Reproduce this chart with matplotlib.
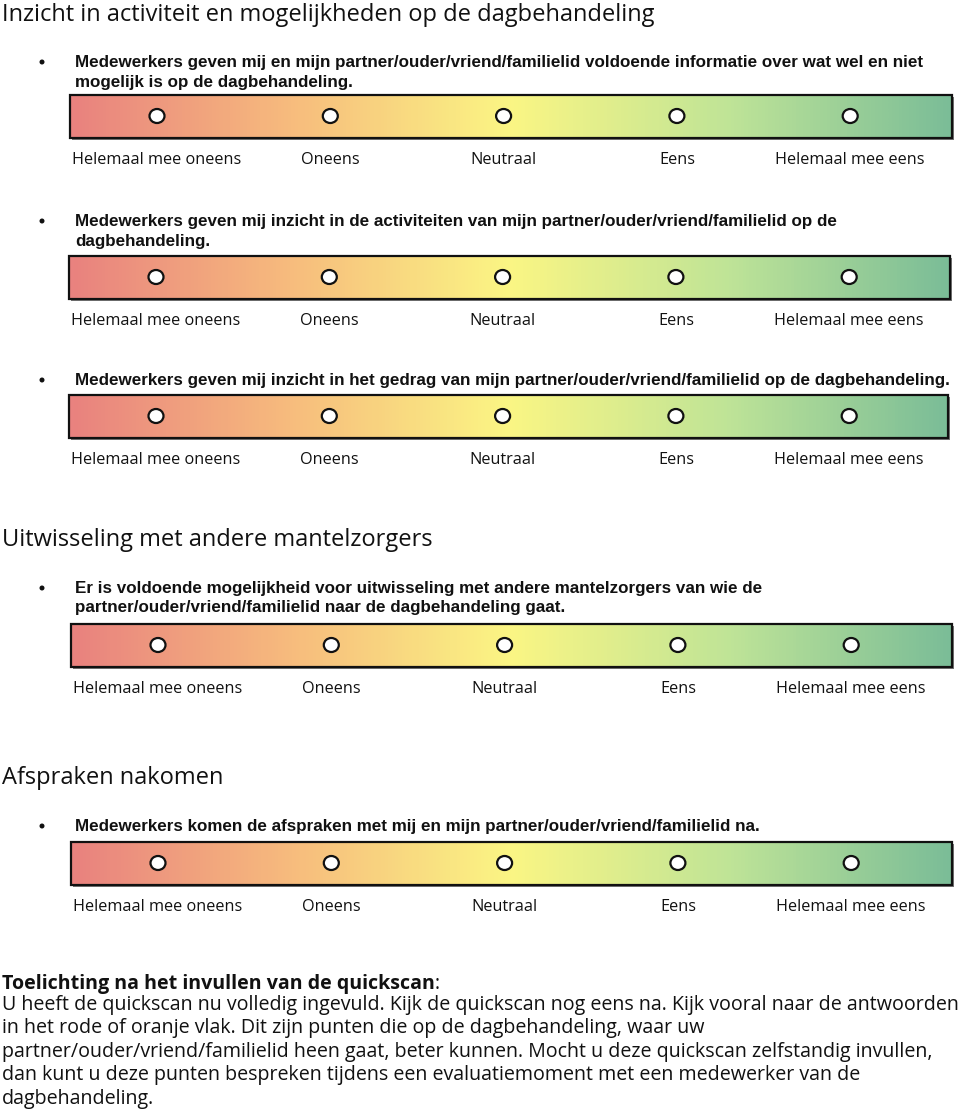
import numpy as np
import matplotlib
matplotlib.use("Agg")
import matplotlib.pyplot as plt
from matplotlib.colors import LinearSegmentedColormap
from matplotlib.patches import Ellipse, Rectangle

# Texts
headings = ["Inzicht in activiteit en mogelijkheden op de dagbehandeling",
            "Uitwisseling met andere mantelzorgers",
            "Afspraken nakomen"]
questions = [
    ["Medewerkers geven mij en mijn partner/ouder/vriend/familielid voldoende informatie over wat wel en niet",
     "mogelijk is op de dagbehandeling."],
    ["Medewerkers geven mij inzicht in de activiteiten van mijn partner/ouder/vriend/familielid op de",
     "dagbehandeling."],
    ["Medewerkers geven mij inzicht in het gedrag van mijn partner/ouder/vriend/familielid op de dagbehandeling."],
    ["Er is voldoende mogelijkheid voor uitwisseling met andere mantelzorgers van wie de",
     "partner/ouder/vriend/familielid naar de dagbehandeling gaat."],
    ["Medewerkers komen de afspraken met mij en mijn partner/ouder/vriend/familielid na."],
]
scale_labels = ["Helemaal mee oneens", "Oneens", "Neutraal", "Eens", "Helemaal mee eens"]
note_title = "Toelichting na het invullen van de quickscan"
note_lines = [
    "U heeft de quickscan nu volledig ingevuld. Kijk de quickscan nog eens na. Kijk vooral naar de antwoorden",
    "in het rode of oranje vlak. Dit zijn punten die op de dagbehandeling, waar uw",
    "partner/ouder/vriend/familielid heen gaat, beter kunnen. Mocht u deze quickscan zelfstandig invullen,",
    "dan kunt u deze punten bespreken tijdens een evaluatiemoment met een medewerker van de",
    "dagbehandeling.",
]
grad_colors = ["#E9827F", "#F7BC7D", "#FBF684", "#BFE497", "#7BBD97"]

# layout (pixels, top-left origin)
heading_y = [21, 546, 784]
q_baselines = [[67, 87], [226, 246], [385], [593, 612], [831]]
bars = [(70, 952, 95, 138), (69, 950, 256, 299), (69, 948, 395, 438),
        (71, 952, 624, 667), (71, 952, 842, 885)]

W, H = 960, 1115
fig = plt.figure(figsize=(W / 100, H / 100), dpi=100)
ax = fig.add_axes([0, 0, 1, 1])
ax.set_xlim(0, W)
ax.set_ylim(H, 0)
ax.axis("off")
renderer = fig.canvas.get_renderer()

REG = "Open Sans"
ARIAL = "Liberation Sans"


def fit_size(s, width, **kw):
    t = ax.text(0, 0, s, fontsize=10, **kw)
    w = t.get_window_extent(renderer).width
    t.remove()
    return 10 * width / w


head_fs = fit_size(headings[0], 653, family=REG)
q_fs = fit_size(questions[0][0], 852, family=ARIAL, weight="bold")
lab_fs = fit_size(scale_labels[0], 169, family=REG)
note_fs = fit_size(note_lines[0], 957, family=REG)

cmap = LinearSegmentedColormap.from_list("scan", grad_colors)
grad = np.linspace(0, 1, 256).reshape(1, -1)

head_for_q = {0: 0, 3: 1, 4: 2}
for i, q in enumerate(questions):
    if i in head_for_q:
        h = head_for_q[i]
        ax.text(2, heading_y[h], headings[h], family=REG, fontsize=head_fs,
                va="baseline", ha="left", color="#111111")
    for j, line in enumerate(q):
        ax.text(75, q_baselines[i][j], line, family=ARIAL, weight="bold",
                fontsize=q_fs, va="baseline", ha="left", color="#111111")
    ax.add_patch(Ellipse((42, q_baselines[i][0] - 5), 5, 5,
                         facecolor="#111111", edgecolor="none"))

    x0, x1, y0, y1 = bars[i]
    ax.add_patch(Rectangle((x0 + 2, y0 + 2), x1 - x0, y1 - y0,
                           facecolor="#777777", edgecolor="none", zorder=1))
    ax.imshow(grad, cmap=cmap, aspect="auto", extent=[x0, x1, y1, y0],
              interpolation="bicubic", zorder=2)
    ax.add_patch(Rectangle((x0, y0), x1 - x0, y1 - y0, facecolor="none",
                           edgecolor="#111111", linewidth=1.6, zorder=3))
    ym = (y0 + y1) / 2 - 0.5
    for k, lab in enumerate(scale_labels):
        cx = x0 + 87 + k * 173.3
        ax.add_patch(Ellipse((cx, ym), 15, 14, facecolor="white",
                             edgecolor="#111111", linewidth=1.6, zorder=4))
        ax.text(cx, y1 + 26, lab, family=REG, fontsize=lab_fs,
                va="baseline", ha="center", color="#111111")

ax.text(2, 989, note_title, family=REG, weight="bold", fontsize=note_fs,
        va="baseline", ha="left", color="#111111")
t = ax.text(2, 989, note_title, family=REG, weight="bold", fontsize=note_fs,
            va="baseline", ha="left", alpha=0)
tw = t.get_window_extent(renderer).width
ax.text(2 + tw, 989, ":", family=REG, fontsize=note_fs, va="baseline",
        ha="left", color="#111111")
for i, line in enumerate(note_lines):
    ax.text(2, 1010 + 23.4 * i, line, family=REG, fontsize=note_fs,
            va="baseline", ha="left", color="#111111")

fig.savefig("out.png", dpi=100)
